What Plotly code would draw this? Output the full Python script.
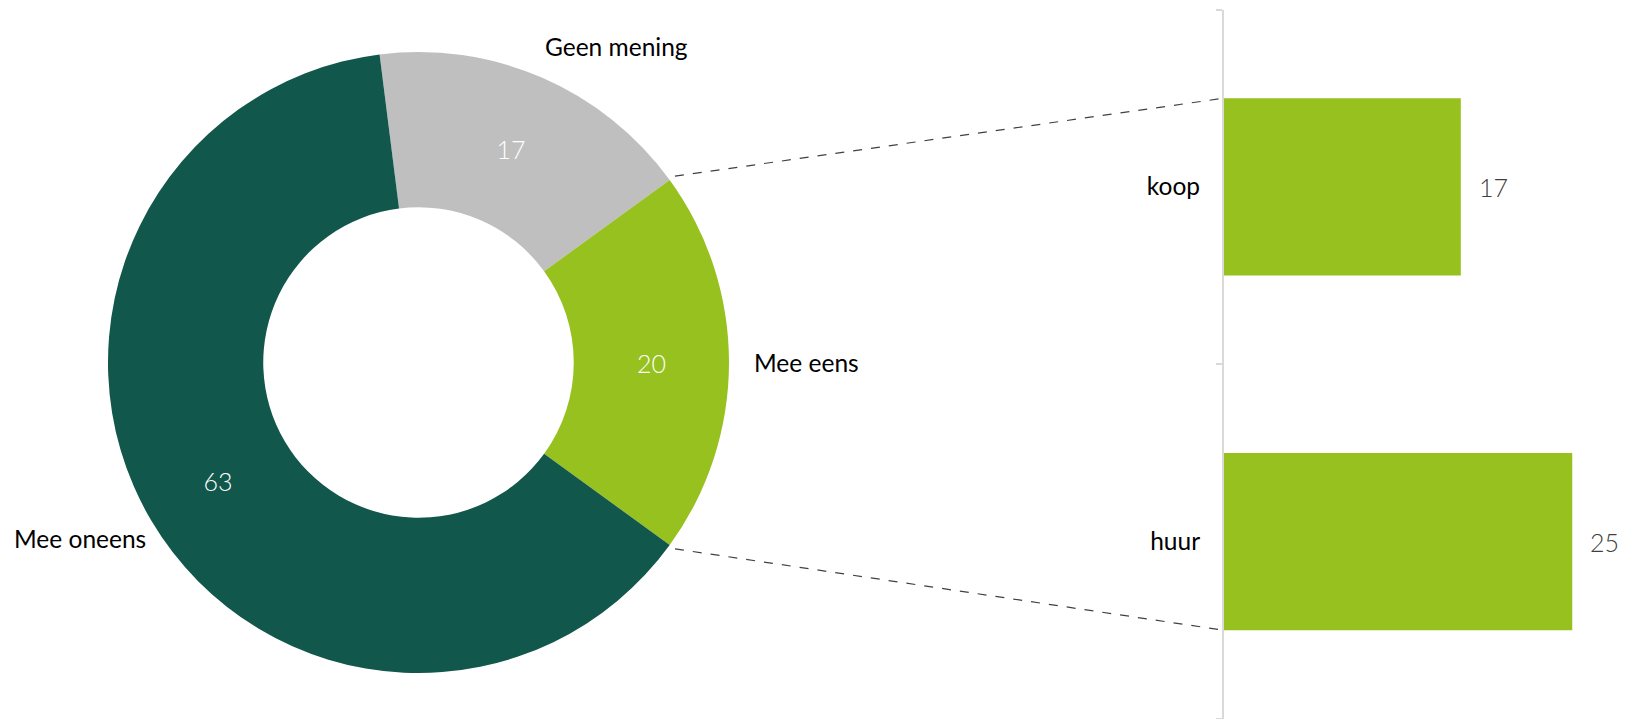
import math
import plotly.graph_objects as go

# ---- data ----
pie_labels = ["Geen mening", "Mee eens", "Mee oneens"]
pie_values = [17, 20, 63]
pie_colors = ["#BFBFBF", "#96C11F", "#12574B"]

bar_categories = ["koop", "huur"]
bar_values = [17, 25]
bar_color = "#96C11F"

# ---- layout constants (pixel coordinates) ----
W, H = 1626, 719
CX, CY, R = 418.5, 362.5, 310.5    # donut centre / radius in px
HOLE = 0.5
START = -7.2                        # first slice start angle (deg, clockwise from top)
LABEL_R = {"Geen mening": 326, "Mee eens": 333, "Mee oneens": 314}
LABEL_XSHIFT = {"Geen mening": -5, "Mee eens": 0, "Mee oneens": 0}
CONNECT_R = 317
BW = 0.50                           # bar width (category units)
X_MAX = 28
PX_PER_UNIT = 13.93
AX_X0 = 1224
AX_X1 = AX_X0 + PX_PER_UNIT * X_MAX
AX_Y_TOP, AX_Y_BOT = 9.5, 719

LABEL_FONT = dict(family="Lato, Open Sans, sans-serif", size=24.5, color="#000000")
NUM_FONT_FAMILY = "Lato Light, Lato, Open Sans, sans-serif"
NUM_SIZE = 25


def px_x(px):
    return px / W


def px_y(py):
    return 1 - py / H


def to_paper(px, py):
    return px_x(px), px_y(py)


fig = go.Figure()

fig.add_trace(go.Pie(
    labels=pie_labels,
    values=pie_values,
    marker=dict(colors=pie_colors, line=dict(width=0)),
    hole=HOLE,
    sort=False,
    direction="clockwise",
    rotation=START,
    textinfo="value",
    textposition="inside",
    insidetextorientation="horizontal",
    textfont=dict(family=NUM_FONT_FAMILY, size=NUM_SIZE, color="white", weight=300),
    domain=dict(x=[px_x(CX - R), px_x(CX + R)], y=[px_y(CY + R), px_y(CY - R)]),
    hoverinfo="skip",
    showlegend=False,
))

fig.add_trace(go.Bar(
    y=bar_categories,
    x=bar_values,
    orientation="h",
    marker=dict(color=bar_color, line=dict(width=0)),
    width=BW,
    xaxis="x",
    yaxis="y",
    hoverinfo="skip",
    showlegend=False,
))

annotations = []
shapes = []

# outside category labels of the donut, placed from the data angles
total = sum(pie_values)
cum = 0
boundaries = []
for lab, v in zip(pie_labels, pie_values):
    a0 = START + 360 * cum / total
    a1 = START + 360 * (cum + v) / total
    mid = math.radians((a0 + a1) / 2)
    s, c = math.sin(mid), math.cos(mid)
    rl = LABEL_R[lab]
    px, py = CX + rl * s, CY - rl * c
    xa = "left" if s > 0.3 else ("right" if s < -0.3 else "center")
    ya = "bottom" if c > 0.3 else ("top" if c < -0.3 else "middle")
    x, y = to_paper(px, py)
    annotations.append(dict(
        text=lab, x=x, y=y, xref="paper", yref="paper",
        xanchor=xa, yanchor=ya, xshift=LABEL_XSHIFT[lab], showarrow=False, font=LABEL_FONT,
    ))
    boundaries.append(a1)
    cum += v

# bar value labels
for cat, v in zip(bar_categories, bar_values):
    annotations.append(dict(
        text=str(v), x=v, y=cat, xref="x", yref="y",
        xanchor="left", yanchor="middle", xshift=16, showarrow=False,
        font=dict(family=NUM_FONT_FAMILY, size=NUM_SIZE, color="#404040", weight=300),
    ))

# connector lines: from the "Mee eens" slice edges to top of koop bar / bottom of huur bar
ydom = [max(0.0, px_y(AX_Y_BOT)), px_y(AX_Y_TOP)]
cat_order = ["huur", "koop"]


def cat_to_paper(val):
    return ydom[0] + (val + 0.5) / len(cat_order) * (ydom[1] - ydom[0])


koop_top = cat_to_paper(cat_order.index("koop") + BW / 2)
huur_bot = cat_to_paper(cat_order.index("huur") - BW / 2)
for ang, yend in [(boundaries[0], koop_top), (boundaries[1], huur_bot)]:
    a = math.radians(ang)
    x0, y0 = to_paper(CX + CONNECT_R * math.sin(a), CY - CONNECT_R * math.cos(a))
    shapes.append(dict(
        type="line", xref="paper", yref="paper",
        x0=x0, y0=y0, x1=px_x(AX_X0), y1=yend,
        line=dict(color="#404040", width=1.2, dash="dash"),
    ))

fig.update_layout(
    width=W, height=H,
    margin=dict(l=0, r=0, t=0, b=0),
    paper_bgcolor="white",
    plot_bgcolor="white",
    showlegend=False,
    xaxis=dict(domain=[px_x(AX_X0), px_x(AX_X1)], range=[0, X_MAX], visible=False, fixedrange=True),
    yaxis=dict(
        domain=ydom,
        type="category",
        categoryorder="array",
        categoryarray=cat_order,
        range=[-0.5, 1.5],
        tickson="boundaries",
        ticks="outside",
        ticklen=6,
        tickwidth=2,
        tickcolor="#D9D9D9",
        showline=True,
        linecolor="#D9D9D9",
        linewidth=2,
        showgrid=False,
        zeroline=False,
        tickfont=LABEL_FONT,
        ticklabelstandoff=17,
        fixedrange=True,
    ),
    annotations=annotations,
    shapes=shapes,
)

fig.write_html(
    "out.html",
    config={"displayModeBar": False, "staticPlot": True},
    post_script="document.body.style.margin='0';document.body.style.overflow='hidden';",
)
